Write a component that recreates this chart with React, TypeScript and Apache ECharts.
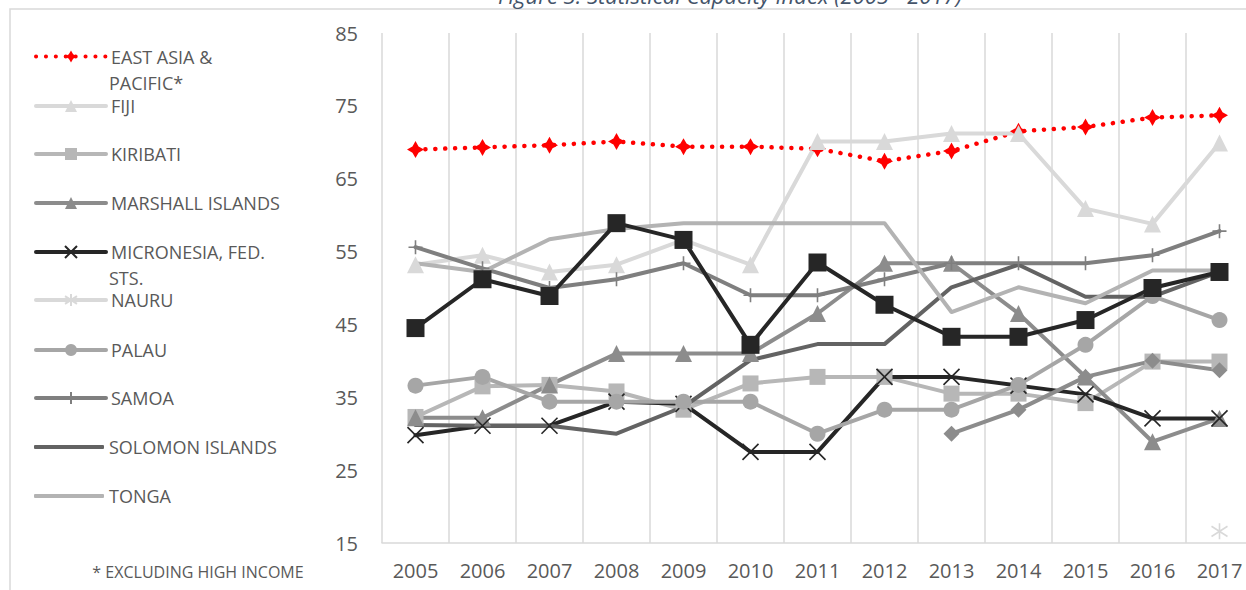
import React, { useEffect, useRef } from 'react';
import * as echarts from 'echarts';

// ---------- data ----------
const years = ['2005', '2006', '2007', '2008', '2009', '2010', '2011', '2012', '2013', '2014', '2015', '2016', '2017'];
const yTicks = { min: 15, max: 85, step: 10 };

const eastAsiaPacific = [69.0, 69.3, 69.6, 70.1, 69.4, 69.4, 69.1, 67.4, 68.8, 71.5, 72.1, 73.4, 73.7];
const fiji = [53.2, 54.5, 52.2, 53.2, 56.6, 53.2, 70.1, 70.1, 71.2, 71.2, 60.9, 58.8, 69.9];
const kiribati = [32.3, 36.5, 36.7, 35.8, 33.3, 36.9, 37.8, 37.8, 35.5, 35.5, 34.2, 39.9, 39.9];
const marshallIslands = [32.2, 32.2, 36.7, 41.0, 41.0, 41.0, 46.5, 53.4, 53.4, 46.5, 37.8, 28.9, 32.1];
const micronesia = [29.8, 31.1, 31.1, 34.4, 34.1, 27.5, 27.5, 37.8, 37.8, 36.6, 35.4, 32.1, 32.1];
const nauru = [null, null, null, null, null, null, null, null, null, null, null, null, 16.6];
const palau = [36.6, 37.8, 34.4, 34.4, 34.4, 34.4, 30.0, 33.3, 33.3, 36.7, 42.2, 48.9, 45.6];
const samoa = [55.6, 52.7, 50.0, 51.2, 53.4, 49.0, 49.0, 51.2, 53.4, 53.4, 53.4, 54.5, 57.8];
const solomonIslands = [31.2, 31.1, 31.1, 30.0, 33.7, 40.1, 42.3, 42.3, 50.1, 53.2, 48.8, 48.8, 52.2];
const tonga = [53.4, 52.2, 56.7, 58.1, 58.9, 58.9, 58.9, 58.9, 46.7, 50.1, 47.9, 52.4, 52.4];
const tuvalu = [null, null, null, null, null, null, null, null, 30.0, 33.3, 37.8, 40.0, 38.7];
const vanuatu = [44.5, 51.2, 48.9, 58.9, 56.6, 42.2, 53.5, 47.7, 43.3, 43.3, 45.6, 50.0, 52.2];

const titleText = 'Figure 3: Statistical Capacity Index (2005 - 2017)';
const footnoteText = '* EXCLUDING HIGH INCOME';

// legend labels that wrap onto a second line: [first line, second line]
const wrappedLabels: Record<string, [string, string]> = {
  'EAST ASIA & PACIFIC*': ['EAST ASIA &', 'PACIFIC*'],
  'MICRONESIA, FED. STS.': ['MICRONESIA, FED.', 'STS.'],
};

// ---------- styles ----------
const STAR = 'path://M5,0L6.8,3.2L10,5L6.8,6.8L5,10L3.2,6.8L0,5L3.2,3.2Z';
const XMARK = 'path://M0,0L10,10M10,0L0,10';
const PLUS = 'path://M5,0L5,10M0,5L10,5';
const ASTER = 'path://M5,0L5,10M0.8,1.8L9.2,8.2M9.2,1.8L0.8,8.2';

type Def = {
  name: string;
  data: (number | null)[];
  color: string;
  symbol: string;
  size?: number;
  stroke?: boolean;
  dotted?: boolean;
  legend: boolean;
};

const defs: Def[] = [
  { name: 'EAST ASIA & PACIFIC*', data: eastAsiaPacific, color: '#ff0000', symbol: STAR, size: 17, dotted: true, legend: true },
  { name: 'FIJI', data: fiji, color: '#d9d9d9', symbol: 'triangle', size: 17, legend: true },
  { name: 'KIRIBATI', data: kiribati, color: '#b7b7b7', symbol: 'rect', size: 16, legend: true },
  { name: 'MARSHALL ISLANDS', data: marshallIslands, color: '#8c8c8c', symbol: 'triangle', size: 17, legend: true },
  { name: 'MICRONESIA, FED. STS.', data: micronesia, color: '#262626', symbol: XMARK, size: 16, stroke: true, legend: true },
  { name: 'NAURU', data: nauru, color: '#d9d9d9', symbol: ASTER, size: 16, stroke: true, legend: true },
  { name: 'PALAU', data: palau, color: '#a6a6a6', symbol: 'circle', size: 16, legend: true },
  { name: 'SAMOA', data: samoa, color: '#7f7f7f', symbol: PLUS, size: 14, stroke: true, legend: true },
  { name: 'SOLOMON ISLANDS', data: solomonIslands, color: '#636363', symbol: 'none', legend: true },
  { name: 'TONGA', data: tonga, color: '#b3b3b3', symbol: 'none', legend: true },
  { name: 'TUVALU', data: tuvalu, color: '#8c8c8c', symbol: 'diamond', size: 16, legend: false },
  { name: 'VANUATU', data: vanuatu, color: '#262626', symbol: 'rect', size: 18, legend: false },
];

const legendCenters = [56.5, 106, 154, 203, 252, 300, 350, 398, 447, 496];
const LEGEND_LEFT = 34;
const LEGEND_ICON_W = 70;
const LEGEND_LINE_H = 26;

const FONT = '"Open Sans", "Liberation Sans", sans-serif';
const LABEL = '#595959';
const GRID_LINE = '#d9d9d9';

function buildOption() {
  const series = defs.map((d) => ({
    name: d.name,
    type: 'line',
    data: d.data,
    color: d.color,
    symbol: d.symbol,
    symbolSize: d.size ?? 10,
    showSymbol: d.symbol !== 'none',
    connectNulls: false,
    lineStyle: {
      color: d.color,
      width: d.dotted ? 4.5 : 4,
      type: d.dotted ? [0.1, 9.8] : 'solid',
      cap: 'round',
      join: 'round',
    },
    itemStyle: d.stroke
      ? { color: d.color, borderColor: d.color, borderWidth: 1.6 }
      : { color: d.color, borderWidth: 0 },
    emphasis: { disabled: true },
    z: 2,
  }));

  const legendDefs = defs.filter((d) => d.legend);
  const legend = legendDefs.map((d, i) => {
    const noMarker = d.symbol === 'none';
    return {
      show: true,
      orient: 'vertical',
      left: LEGEND_LEFT,
      top: legendCenters[i] - LEGEND_LINE_H / 2,
      padding: 0,
      itemWidth: LEGEND_ICON_W,
      itemHeight: noMarker ? 4 : 15,
      itemGap: 0,
      selectedMode: false,
      data: noMarker ? [{ name: d.name, icon: 'roundRect' }] : [d.name],
      formatter: (n: string) => (wrappedLabels[n] ? wrappedLabels[n][0] : n),
      lineStyle: { width: 4, cap: 'round' },
      textStyle: {
        color: LABEL,
        fontSize: 18,
        fontFamily: FONT,
        lineHeight: LEGEND_LINE_H,
      },
    };
  });

  const secondLines = legendDefs
    .map((d, i) => ({ d, i }))
    .filter(({ d }) => !!wrappedLabels[d.name])
    .map(({ d, i }) => ({
      type: 'text',
      silent: true,
      x: LEGEND_LEFT + LEGEND_ICON_W + 5,
      y: legendCenters[i] + LEGEND_LINE_H,
      style: {
        text: wrappedLabels[d.name][1],
        font: `18px ${FONT}`,
        fill: LABEL,
        textAlign: 'left',
        textVerticalAlign: 'middle',
      },
    }));

  return {
    animation: false,
    backgroundColor: '#ffffff',
    grid: {
      left: 382,
      top: 33,
      width: 871,
      height: 510,
      containLabel: false,
      outerBoundsMode: 'none',
    },
    legend,
    xAxis: {
      type: 'category',
      data: years,
      boundaryGap: true,
      axisLine: { show: true, lineStyle: { color: GRID_LINE, width: 1.5 } },
      axisTick: { show: false },
      splitLine: { show: true, interval: 0, lineStyle: { color: GRID_LINE, width: 1.5 } },
      axisLabel: { interval: 0, margin: 17, fontSize: 20, color: LABEL, fontFamily: FONT, hideOverlap: false },
    },
    yAxis: {
      type: 'value',
      min: yTicks.min,
      max: yTicks.max,
      interval: yTicks.step,
      axisLine: { show: false },
      axisTick: { show: false },
      splitLine: { show: false },
      axisLabel: { margin: 24, fontSize: 20, color: LABEL, fontFamily: FONT },
    },
    graphic: [
      {
        type: 'rect',
        silent: true,
        z: -10,
        shape: { x: 10, y: 9, width: 1400, height: 700 },
        style: { fill: 'none', stroke: GRID_LINE, lineWidth: 1.5 },
      },
      {
        type: 'text',
        silent: true,
        x: 730,
        y: 6,
        style: {
          text: titleText,
          font: `italic 22px ${FONT}`,
          fill: '#44546a',
          textAlign: 'center',
          textVerticalAlign: 'bottom',
        },
      },
      {
        type: 'text',
        silent: true,
        x: 198,
        y: 572,
        style: {
          text: footnoteText,
          font: `16px ${FONT}`,
          fill: LABEL,
          textAlign: 'center',
          textVerticalAlign: 'middle',
        },
      },
      ...secondLines,
    ],
    series,
  };
}

export default function App() {
  const ref = useRef<HTMLDivElement>(null);
  useEffect(() => {
    if (!ref.current) return;
    const chart = echarts.init(ref.current, null, { renderer: 'svg' });
    chart.setOption(buildOption() as any);
    return () => chart.dispose();
  }, []);
  return (
    <div
      ref={ref}
      style={{ position: 'fixed', left: 0, top: 0, width: 1246, height: 590, background: '#ffffff' }}
    />
  );
}
